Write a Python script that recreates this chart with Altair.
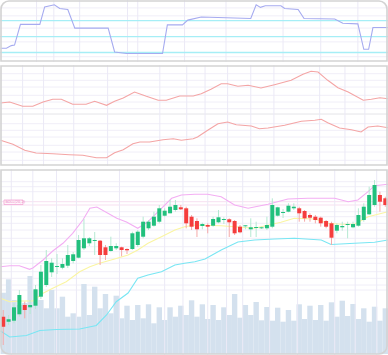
import altair as alt
import pandas as pd

# ---------------- data ----------------
idx = list(range(72))
opens = [37.3, 32.3, 33.3, 39.7, 49.0, 46.7, 48.3, 57.3, 69.0, 81.7,
         87.0, 86.3, 88.3, 93.0, 96.3, 105.7, 110.7, 113.0, 113.3, 106.7,
         103.0, 105.7, 106.7, 105.0, 105.0, 109.0, 117.3, 125.7, 128.3, 132.3,
         138.3, 140.7, 144.0, 146.7, 145.7, 137.3, 133.0, 128.0, 129.0, 128.3,
         131.7, 134.0, 134.7, 133.0, 127.3, 127.7, 124.7, 126.0, 125.7, 125.7,
         127.3, 138.3, 141.0, 142.3, 145.7, 145.7, 143.0, 139.0, 137.3, 136.3,
         133.0, 130.7, 123.3, 126.7, 129.0, 126.7, 128.3, 134.0, 139.7, 149.0,
         159.0, 155.7]
closes = [27.3, 34.7, 46.7, 59.0, 44.0, 49.0, 64.7, 82.3, 93.0, 91.3,
          88.0, 90.0, 99.0, 99.7, 114.0, 115.7, 115.7, 114.0, 99.0, 99.0,
          108.0, 108.0, 104.0, 103.7, 120.7, 122.3, 132.3, 132.3, 137.3, 145.7,
          143.3, 147.3, 149.0, 144.7, 130.7, 127.3, 124.7, 130.0, 127.3, 135.0,
          136.7, 135.0, 131.7, 120.7, 121.7, 128.7, 126.7, 127.0, 126.7, 129.0,
          149.0, 146.7, 142.0, 148.3, 147.3, 140.7, 135.7, 136.3, 134.0, 130.7,
          127.3, 116.3, 129.0, 128.0, 130.0, 130.0, 139.0, 147.3, 159.0, 169.0,
          152.3, 149.0]
highs = [44, 39, 50.7, 64, 52.3, 54, 69, 89, 104, 95.7,
         100, 95.7, 109, 102, 119, 135, 117, 122, 114, 109,
         117.3, 110.7, 107.3, 105.7, 122.3, 124, 137.3, 134, 142.3, 149,
         145.7, 154, 154, 149, 147.3, 139, 135.7, 131.3, 130.7, 137.3,
         144, 136.7, 135.7, 134, 129, 129, 135.7, 132.3, 127.3, 137.3,
         155.7, 147.3, 145, 150.7, 150.7, 147.3, 144, 140.7, 139, 137.3,
         134, 132.3, 130.7, 132.3, 132.3, 132.3, 145.7, 150.7, 167.3, 174,
         162.3, 157.3]
lows = [9, 29, 30.7, 37.3, 35.7, 40, 45, 55, 67, 77,
        80, 84.7, 86, 90.7, 95.7, 104, 108, 99, 89, 94,
        102.3, 104, 97.7, 100, 104, 107, 115.7, 124, 127.3, 130.7,
        137.3, 140.7, 142.3, 144, 125.7, 124, 117, 124.7, 120.7, 127.3,
        130.7, 130, 117, 119, 120.7, 124.7, 117, 117, 125, 124,
        125.7, 137.3, 136, 141.7, 144, 132.3, 132.3, 132.3, 130.7, 127.3,
        125.7, 109, 120.7, 123.3, 115.7, 125.7, 127.3, 132.3, 139, 147.3,
        142.3, 147.3]
volumes = [61.3, 74.7, 54, 49, 51, 78, 64, 54, 45.7, 64,
           45.7, 57.3, 37.3, 40.7, 37.3, 70, 39, 67.3, 45.7, 60,
           40.7, 58.3, 35.7, 48.3, 34, 49, 35.7, 49.7, 30.7, 46.7,
           34, 46.7, 37.3, 48.3, 39, 53.7, 37.3, 49.7, 35, 49,
           34, 46.7, 39, 60, 36.3, 49, 39, 52, 33.7, 47,
           33.3, 46.3, 32.3, 44, 33.3, 49.7, 35, 48.3, 34, 49,
           33.3, 51.7, 37.3, 53.3, 38, 50, 35, 45.7, 32.3, 47.3,
           33.3, 45.7]

# bollinger-style bands (vertices)
bb_up_x = [-0.5, 1.2, 3.0, 4.9, 5.5, 7.4, 9.2, 11.1, 12.9, 14.8, 16.1, 17.4, 21.1, 22.9,
           25.0, 26.9, 29.4, 31.3, 33.1, 35.6, 38.0, 40.5, 43.0, 45.5, 49.2, 52.9, 56.6,
           61.6, 64.1, 65.9, 67.8, 69.0, 71.5]
bb_up_y = [87.3, 88.3, 88.3, 84.7, 86, 94, 103, 110.7, 120.7, 134, 145.7, 147, 135.7, 132,
           125.7, 132.3, 145.7, 155.7, 159, 159.7, 159.7, 157.3, 149, 145.7, 149.7, 155, 155.7,
           155.7, 152.3, 154, 162.3, 168.3, 169.7]
bb_mid_x = [-0.5, 1.2, 3.0, 5.5, 7.4, 9.2, 11.7, 14.2, 16.1, 17.9, 20.7, 23.2, 25.0, 26.9,
            29.4, 31.9, 33.7, 35.6, 40.5, 46.7, 51.6, 54.1, 57.9, 60.3, 62.8, 65.3, 67.8, 71.5]
bb_mid_y = [55.7, 52.3, 53, 53, 60.7, 65.7, 72.3, 82.3, 87.3, 90.7, 95, 99, 104, 110.7,
            117.3, 124, 127.3, 129, 128.3, 125.7, 131.7, 135.7, 135, 130.7, 129.7, 129.7, 137.3, 142.3]
bb_lo_x = [-0.5, 1.2, 4.3, 6.8, 9.9, 14.2, 17.3, 19.2, 21.0, 23.2, 25.0, 26.9, 29.4, 31.9,
           33.7, 35.6, 37.5, 40.5, 43.6, 46.7, 50.4, 54.1, 59.1, 60.9, 65.3, 69.0, 71.5]
bb_lo_y = [23, 17, 18.5, 23.5, 24.5, 25, 28.5, 39, 52.3, 61, 75.7, 79, 82.3, 89,
           90.7, 92.3, 95, 104, 112, 114, 115, 115.7, 114, 109.5, 110.7, 111.7, 114]

# oscillator (top panel)
osc_x = [-0.5, 0.6, 1.5, 2.1, 3.2, 6.8, 7.7, 9.5, 10.5, 12.0, 13.3, 19.5, 20.7, 22.9,
         29.6, 30.5, 33.3, 34.3, 36.8, 46.0, 47.0, 47.8, 48.7, 51.6, 52.3, 54.8, 55.9,
         61.6, 63.1, 65.9, 67.0, 67.9, 68.7, 71.5]
osc_y = [28, 28, 33, 34, 73, 73, 106, 110, 103, 101, 66, 66, 21, 18,
         18, 72, 72, 81, 87, 84, 110, 105, 108, 108, 103, 101, 84,
         83, 75, 74, 26, 26, 67, 67]
osc_levels = [20, 50, 80]

# middle panel lines
mid_up_x = [-0.5, 1.2, 3.6, 5.5, 7.4, 9.2, 10.8, 12.9, 15.4, 17.0, 19.2, 20.7, 22.3, 24.4,
            26.6, 28.8, 30.3, 32.8, 35.3, 36.8, 38.6, 40.5, 41.7, 43.6, 45.5, 47.9, 50.4,
            53.5, 55.7, 57.2, 58.5, 60.3, 62.2, 64.1, 66.9, 68.4, 70.0, 71.5]
mid_up_y = [62, 63, 58.7, 58.7, 63, 65.7, 65.7, 60.7, 60.7, 63.7, 59.7, 63.7, 67, 73,
            68.7, 64.7, 64.7, 69, 69, 71.3, 75.7, 81.3, 81.3, 78.7, 79.7, 77, 80.3,
            84.7, 90.7, 93.7, 93, 84.7, 77.3, 73, 64.7, 65.7, 67.3, 66.3]
mid_lo_x = [-0.5, 1.8, 4.0, 6.1, 9.2, 12.3, 14.8, 17.3, 19.2, 20.7, 22.3, 24.1, 25.4, 27.2,
            29.7, 31.6, 33.1, 35.3, 36.1, 38.0, 39.9, 41.7, 43.3, 46.1, 47.6, 49.2, 52.3,
            55.4, 57.9, 59.1, 60.3, 62.5, 64.7, 66.5, 67.8, 69.6, 71.5]
mid_lo_y = [24.7, 20.7, 14.7, 12, 11.3, 10.3, 9.7, 7.3, 7.3, 12.3, 15.3, 21.3, 23, 23,
            25.3, 26.3, 24.7, 26.3, 28, 34.7, 41.3, 43, 40.3, 39, 36.3, 37, 39.7,
            43.7, 44.7, 45.7, 42.3, 37, 35.3, 33, 38, 39, 37.3]

# grid positions
top_vgrid = [6.2, 9.4, 14.2, 23.1, 25.0, 33.7, 41.4, 52.0, 59.0, 65.9]
top_hgrid = [104, 89, 66, 40, 12]
mid_vgrid = [3.6, 7.5, 13.1, 19.4, 29.1, 34.1, 37.5, 41.7, 46.0, 50.3, 58.8, 63.5, 67.2]
mid_hgrid = [91.3, 84.7, 78, 69.7, 63, 56.3, 41.3, 34.7, 28, 19.7, 13, 4.7]
mid_sep = [51]
bot_vgrid = [1.5, 5.5, 9.9, 13.6, 21.6, 30.0, 33.4, 38.0, 41.5, 44.5, 49.5, 54.7, 61.6, 65.4, 69.4]
bot_hgrid = [172.3, 167.3, 162.3, 142.3, 137.3, 130.7, 124, 115.7, 107.3, 102.3,
             95.7, 90.7, 82.3, 75.7, 69, 64]
legend_lines = [152.3, 149]
legend_label = "BOLL(20,2)"

# ---------------- chart ----------------
W = 388
H_TOP, H_MID, H_BOT = 62, 101, 186
IN = 1  # frame inset so the border stroke stays inside each view
xs = alt.Scale(domain=[-0.6, 71.5], nice=False, zero=False, padding=0)
ys_top = alt.Scale(domain=[2.1, 118.9], nice=False, zero=False, padding=0)
ys_mid = alt.Scale(domain=[-1, 100], nice=False, zero=False, padding=0)
ys_bot = alt.Scale(domain=[-1, 185], nice=False, zero=False, padding=0)

GRID_V = "#ebe9f6"
GRID_H = "#f0eef8"
BORDER = "#d3d3d3"
UP, DOWN = "#22c07d", "#f53d3d"
UP_W, DOWN_W = "#b5e9d2", "#f5a9a9"


def vgrid(vals):
    return alt.Chart(pd.DataFrame({"g": vals})).mark_rule(color=GRID_V, strokeWidth=1, clip=True).encode(
        x=alt.X("g:Q", scale=xs, axis=None))


def hgrid(vals, ys, color=GRID_H, width=1):
    return alt.Chart(pd.DataFrame({"g": vals})).mark_rule(color=color, strokeWidth=width, clip=True).encode(
        y=alt.Y("g:Q", scale=ys, axis=None))


def line(xv, yv, ys, color, width=1):
    return alt.Chart(pd.DataFrame({"x": xv, "y": yv})).mark_line(
        color=color, strokeWidth=width, interpolate="linear", clip=True).encode(
        x=alt.X("x:Q", scale=xs, axis=None),
        y=alt.Y("y:Q", scale=ys, axis=None),
        order="x:Q")


def frame(h, tl=0, tr=0, bl=0, br=0):
    return alt.Chart(pd.DataFrame({"f": [0]})).mark_rect(
        fill="transparent", stroke=BORDER, strokeWidth=1.6,
        cornerRadiusTopLeft=tl, cornerRadiusTopRight=tr,
        cornerRadiusBottomLeft=bl, cornerRadiusBottomRight=br).encode(
        x=alt.value(IN), x2=alt.value(W - IN), y=alt.value(IN), y2=alt.value(h - IN))


# top panel
levels = alt.Chart(pd.DataFrame({"lv": osc_levels})).mark_rule(color="#a6eef6", strokeWidth=1.3, clip=True).encode(
    y=alt.Y("lv:Q", scale=ys_top, axis=None))
top = alt.layer(
    hgrid(top_hgrid, ys_top), vgrid(top_vgrid), levels,
    line(osc_x, osc_y, ys_top, "#a6abf0", 1.1),
    frame(H_TOP, tl=8, tr=8),
).properties(width=W, height=H_TOP)

# middle panel
mid = alt.layer(
    hgrid(mid_hgrid, ys_mid), hgrid(mid_sep, ys_mid, color="#e4e4e8"), vgrid(mid_vgrid),
    line(mid_up_x, mid_up_y, ys_mid, "#f4a5a5", 1.1),
    line(mid_lo_x, mid_lo_y, ys_mid, "#f4a5a5", 1.1),
    frame(H_MID),
).properties(width=W, height=H_MID)

# bottom panel
cdf = pd.DataFrame({"i": idx, "open": opens, "close": closes, "high": highs, "low": lows, "vol": volumes})
base = alt.Chart(cdf)
is_up = "datum.close >= datum.open"

vol = base.transform_calculate(x0="datum.i - 0.5", x1="datum.i + 0.5", b="0").mark_rect(
    color="#d4e1ee", clip=True).encode(
    x=alt.X("x0:Q", scale=xs, axis=None), x2="x1:Q",
    y=alt.Y("vol:Q", scale=ys_bot, axis=None), y2="b:Q")

wick = base.mark_rule(strokeWidth=1, clip=True).encode(
    x=alt.X("i:Q", scale=xs, axis=None),
    y=alt.Y("low:Q", scale=ys_bot, axis=None), y2="high:Q",
    color=alt.condition(is_up, alt.value(UP_W), alt.value(DOWN_W)))

body = base.mark_bar(size=4, clip=True).encode(
    x=alt.X("i:Q", scale=xs, axis=None),
    y=alt.Y("open:Q", scale=ys_bot, axis=None), y2="close:Q",
    color=alt.condition(is_up, alt.value(UP), alt.value(DOWN)))

leg_box = alt.Chart(pd.DataFrame({"t": [legend_label]})).mark_rect(
    fill="#fff5fb", stroke="#f2a6d6", strokeWidth=0.8).encode(
    x=alt.value(4), x2=alt.value(23), y=alt.value(31), y2=alt.value(35.5))
leg_text = alt.Chart(pd.DataFrame({"t": [legend_label]})).mark_text(
    fontSize=3.5, color="#ec7fc0", align="left", baseline="middle", font="DejaVu Sans").encode(
    x=alt.value(5.5), y=alt.value(33.3), text="t:N")

bot = alt.layer(
    hgrid(bot_hgrid, ys_bot), hgrid(legend_lines, ys_bot, color="#f7dff0"),
    vol, vgrid(bot_vgrid),
    line(bb_up_x, bb_up_y, ys_bot, "#f3aef3", 1.1),
    line(bb_mid_x, bb_mid_y, ys_bot, "#faf5a2", 1.1),
    line(bb_lo_x, bb_lo_y, ys_bot, "#79e6f3", 1.1),
    wick, body, leg_box, leg_text,
    frame(H_BOT, bl=8, br=8),
).properties(width=W, height=H_BOT)

chart = alt.vconcat(top, mid, bot, spacing=3, padding=0, background="white").configure_view(stroke=None)

chart.save("out.html", embed_options={"renderer": "svg", "actions": False})
